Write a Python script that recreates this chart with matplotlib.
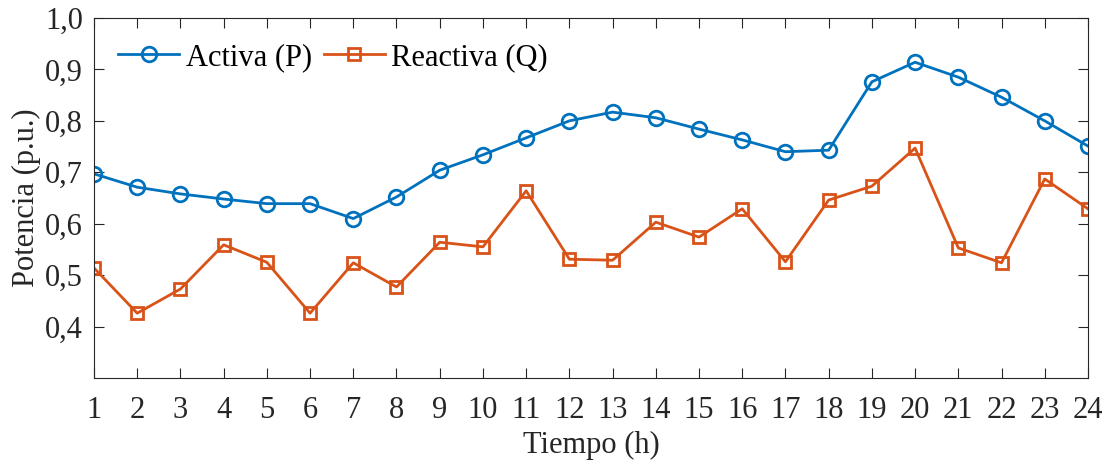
import matplotlib.pyplot as plt
from matplotlib.ticker import FuncFormatter

plt.rcParams['font.family'] = ['Liberation Serif', 'DejaVu Serif']

horas = list(range(1, 25))
activa = [0.697, 0.671, 0.658, 0.648, 0.639, 0.639, 0.610, 0.652, 0.704, 0.734,
          0.767, 0.800, 0.817, 0.806, 0.784, 0.763, 0.740, 0.743, 0.876, 0.914,
          0.885, 0.846, 0.800, 0.751]
reactiva = [0.514, 0.426, 0.473, 0.559, 0.525, 0.426, 0.524, 0.477, 0.564, 0.555,
            0.664, 0.531, 0.529, 0.603, 0.574, 0.629, 0.526, 0.646, 0.673, 0.747,
            0.553, 0.524, 0.687, 0.629]
yticks = [0.4, 0.5, 0.6, 0.7, 0.8, 0.9, 1.0]

fig = plt.figure(figsize=(11.07, 4.63), dpi=100)
ax = fig.add_axes([0.0849, 0.1836, 0.8979, 0.7775])

ax.plot(horas, activa, color="#0072BD", lw=2, marker="o", ms=10.5,
        mfc="none", mew=2, label="Activa (P)")
ax.plot(horas, reactiva, color="#D95319", lw=2, marker="s", ms=8.5,
        mfc="none", mew=2, label="Reactiva (Q)")

ax.set_xlim(1, 24)
ax.set_ylim(0.3, 1.0)
ax.set_xticks(horas)
ax.set_yticks(yticks)
ax.yaxis.set_major_formatter(FuncFormatter(lambda v, p: f"{v:.1f}".replace(".", ",")))
ax.tick_params(direction="in", length=7, width=0.8, top=True, right=True,
               labelsize=22, colors="#262626")
ax.tick_params(axis="x", pad=13)
ax.tick_params(axis="y", pad=8)
for s in ax.spines.values():
    s.set_linewidth(0.8)
    s.set_color("#262626")

ax.set_xlabel("Tiempo (h)", fontsize=22, color="#262626", labelpad=4)
ax.set_ylabel("Potencia (p.u.)", fontsize=22, color="#262626", labelpad=3)

# leyenda sin marco, arriba a la izquierda
ax.legend(loc="upper left", frameon=False, ncol=2, fontsize=22,
          handlelength=2.0, columnspacing=0.4, handletextpad=0.2,
          borderaxespad=0.3, bbox_to_anchor=(0.003, 0.99))

fig.savefig("out.png", dpi=100)
